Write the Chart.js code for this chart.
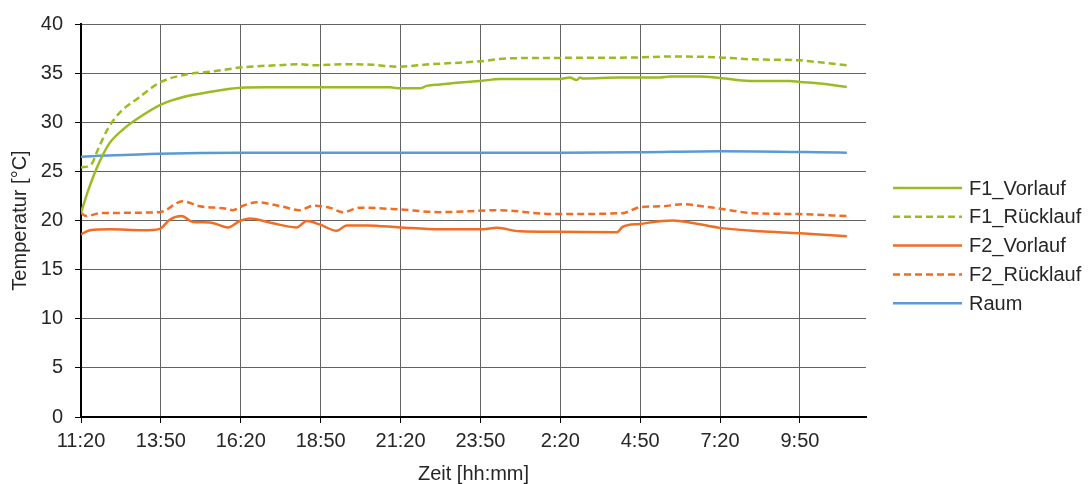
<!DOCTYPE html>
<html>
<head>
<meta charset="utf-8">
<script src="https://cdn.jsdelivr.net/npm/chart.js@4"></script>
<style>
  html, body { margin: 0; padding: 0; background: #fff; }
  #wrap { width: 1091px; height: 484px; }
</style>
</head>
<body>
<div id="wrap"><canvas id="myChart"></canvas></div>
<script>
// time axis: minutes after 11:20
const startMinutes = 11 * 60 + 20;
const xMax = 1474;
const tickStep = 150;

const f1VorlaufTime = [0, 15, 35, 54, 82, 107, 150, 194, 244, 300, 349, 580, 599, 636, 649, 674, 711, 749, 787, 899, 918, 931, 937, 943, 1012, 1087, 1106, 1162, 1200, 1256, 1331, 1350, 1387, 1438];
const f1VorlaufVal = [20.8, 23.3, 26.0, 27.9, 29.4, 30.4, 31.8, 32.6, 33.1, 33.5, 33.55, 33.55, 33.45, 33.45, 33.7, 33.85, 34.05, 34.2, 34.4, 34.4, 34.55, 34.3, 34.55, 34.45, 34.55, 34.55, 34.65, 34.65, 34.5, 34.2, 34.2, 34.1, 33.95, 33.6];

const f1RuecklaufTime = [0, 19, 32, 51, 75, 107, 150, 201, 244, 304, 368, 411, 436, 492, 548, 593, 655, 749, 800, 894, 1049, 1106, 1200, 1262, 1350, 1387, 1438];
const f1RuecklaufVal = [25.4, 25.7, 27.25, 29.4, 31.1, 32.45, 34.1, 34.9, 35.15, 35.6, 35.8, 35.9, 35.8, 35.9, 35.85, 35.65, 35.9, 36.2, 36.5, 36.55, 36.6, 36.7, 36.6, 36.4, 36.3, 36.1, 35.8];

const f2VorlaufTime = [0, 17, 54, 116, 148, 167, 189, 210, 242, 276, 298, 317, 354, 405, 424, 448, 480, 499, 537, 599, 674, 755, 781, 824, 894, 1006, 1017, 1049, 1111, 1149, 1200, 1275, 1350, 1438];
const f2VorlaufVal = [18.6, 19.0, 19.1, 19.0, 19.15, 20.1, 20.45, 19.85, 19.8, 19.3, 19.95, 20.2, 19.8, 19.3, 19.95, 19.6, 18.95, 19.5, 19.5, 19.3, 19.1, 19.1, 19.25, 18.9, 18.85, 18.8, 19.35, 19.65, 20.0, 19.75, 19.25, 18.9, 18.7, 18.4];

const f2RuecklaufTime = [0, 10, 36, 148, 191, 223, 273, 285, 304, 330, 379, 411, 436, 467, 492, 524, 593, 674, 787, 886, 1017, 1049, 1092, 1130, 1181, 1262, 1350, 1438];
const f2RuecklaufVal = [20.75, 20.45, 20.75, 20.85, 21.95, 21.45, 21.2, 21.05, 21.5, 21.85, 21.4, 21.05, 21.5, 21.3, 20.85, 21.3, 21.15, 20.85, 21.05, 20.65, 20.75, 21.35, 21.45, 21.65, 21.35, 20.75, 20.65, 20.45];

const raumTime = [0, 148, 304, 600, 900, 1049, 1200, 1438];
const raumVal = [26.5, 26.8, 26.9, 26.9, 26.9, 26.95, 27.05, 26.9];

const green = '#9bbb22';
const orange = '#f26d21';
const blue = '#5b9bd5';
const textColor = '#262626';
const gridColor = '#626262';
const fontFamily = '"Liberation Sans", Arial, sans-serif';
const font = { family: fontFamily, size: 20 };
const dash = [7, 4];

function pts(t, v) {
  return t.map((x, i) => ({ x: x, y: v[i] }));
}

function series(label, t, v, color, d) {
  return {
    label: label,
    data: pts(t, v),
    borderColor: color,
    backgroundColor: color,
    borderWidth: 2.5,
    borderDash: d,
    pointRadius: 0,
    cubicInterpolationMode: 'monotone',
    fill: false
  };
}

function fmtTime(v) {
  const t = startMinutes + v;
  const h = Math.floor(t / 60) % 24;
  const m = t % 60;
  return h + ':' + String(m).padStart(2, '0');
}

// legend drawn by hand so the dashed entries keep their dash
const sideLegend = {
  id: 'sideLegend',
  afterDraw(chart) {
    const c = chart.ctx;
    const x0 = chart.chartArea.right + 27;
    const y0 = 188;
    const rowH = 28.8;
    c.save();
    c.font = '20px ' + fontFamily;
    c.textBaseline = 'middle';
    c.fillStyle = textColor;
    chart.data.datasets.forEach((ds, i) => {
      const y = y0 + i * rowH;
      c.beginPath();
      c.setLineDash(ds.borderDash || []);
      c.strokeStyle = ds.borderColor;
      c.lineWidth = 2.5;
      c.moveTo(x0, y);
      c.lineTo(x0 + 69, y);
      c.stroke();
      c.setLineDash([]);
      c.fillText(ds.label, x0 + 76, y + 1);
    });
    c.restore();
  }
};

const ctx = document.getElementById('myChart');

new Chart(ctx, {
  type: 'line',
  data: {
    datasets: [
      series('F1_Vorlauf', f1VorlaufTime, f1VorlaufVal, green, []),
      series('F1_Rücklauf', f1RuecklaufTime, f1RuecklaufVal, green, dash),
      series('F2_Vorlauf', f2VorlaufTime, f2VorlaufVal, orange, []),
      series('F2_Rücklauf', f2RuecklaufTime, f2RuecklaufVal, orange, dash),
      series('Raum', raumTime, raumVal, blue, [])
    ]
  },
  options: {
    responsive: true,
    maintainAspectRatio: false,
    animation: false,
    layout: { padding: { top: 22, left: 0, right: 225, bottom: 0 } },
    plugins: {
      tooltip: { enabled: false },
      legend: { display: false }
    },
    scales: {
      x: {
        type: 'linear',
        min: 0,
        max: xMax,
        afterFit: (s) => { s.height = 67; },
        ticks: {
          stepSize: tickStep,
          includeBounds: false,
          autoSkip: false,
          maxRotation: 0,
          padding: 6,
          color: textColor,
          font: font,
          callback: (v) => fmtTime(v)
        },
        grid: { color: gridColor, lineWidth: 1, tickLength: 6, tickColor: '#000' },
        border: { color: '#000', width: 2 },
        title: { display: true, text: 'Zeit [hh:mm]', color: textColor, font: { family: fontFamily, size: 20, lineHeight: 1 }, padding: 0 }
      },
      y: {
        min: 0,
        max: 40,
        afterFit: (s) => { s.width = 81; },
        ticks: { stepSize: 5, padding: 12, color: textColor, font: font },
        grid: { color: gridColor, lineWidth: 1, tickLength: 6, tickColor: '#000' },
        border: { color: '#000', width: 2 },
        title: { display: true, text: 'Temperatur [°C]', color: textColor, font: font, padding: { top: 8, bottom: 0 } }
      }
    }
  },
  plugins: [sideLegend]
});
</script>
</body>
</html>
